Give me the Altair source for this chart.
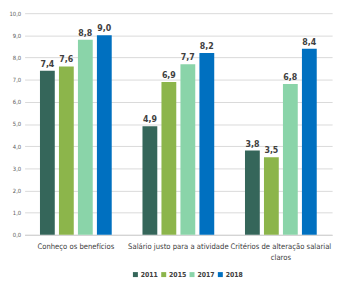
import altair as alt
import pandas as pd

categories = ["Conheço os benefícios", "Salário justo para a atividade", "Critérios de alteração salarial claros"]
years = ["2011", "2015", "2017", "2018"]
v2011 = [7.4, 4.9, 3.8]
v2015 = [7.6, 6.9, 3.5]
v2017 = [8.8, 7.7, 6.8]
v2018 = [9.0, 8.2, 8.4]
colors = ["#35665A", "#8CB54B", "#8AD4A9", "#0070C0"]
ticks = [0, 1, 2, 3, 4, 5, 6, 7, 8, 9, 10]

rows = []
for i, c in enumerate(categories):
    for y, vals in zip(years, [v2011, v2015, v2017, v2018]):
        rows.append({"cat": c, "year": y, "value": vals[i]})
df = pd.DataFrame(rows)

FONT = "DejaVu Sans Condensed, Liberation Sans Narrow, Noto Sans"

x = alt.X("cat:N", sort=categories, title=None,
          scale=alt.Scale(paddingInner=0.3, paddingOuter=0.15),
          axis=alt.Axis(labelAngle=0, labelFontSize=7.8, labelColor="#404040", labelFont=FONT,
                        domainColor="#d0d0d0", ticks=False, labelPadding=8, labelLimit=200,
                        labelLineHeight=11,
                        labelExpr="datum.label == 'Critérios de alteração salarial claros' ? ['Critérios de alteração salarial', 'claros'] : datum.label"))
xo = alt.XOffset("year:N", sort=years, scale=alt.Scale(paddingInner=0.22))
y = alt.Y("value:Q", title=None, scale=alt.Scale(domain=[0, 10]),
          axis=alt.Axis(values=ticks, format=".1f", labelOverlap=False,
                        labelExpr="replace(datum.label, '.', ',')",
                        labelFontSize=6, labelColor="#606060", labelFont=FONT,
                        domain=False, ticks=False, gridColor="#d9d9d9", labelPadding=4))

bars = alt.Chart(df).mark_bar().encode(
    x=x, xOffset=xo, y=y,
    color=alt.Color("year:N", sort=years, scale=alt.Scale(domain=years, range=colors),
                    legend=alt.Legend(title=None, orient="none", direction="horizontal",
                                      legendX=110, legendY=264, symbolType="square",
                                      symbolSize=26, symbolStrokeWidth=0, labelFontSize=7,
                                      labelFont=FONT, labelColor="#404040", labelFontWeight="bold",
                                      columnPadding=2, labelOffset=2))
)

labels = alt.Chart(df).mark_text(dy=-7, fontSize=9, fontWeight="bold", color="#404040", font=FONT).encode(
    x=x, xOffset=xo, y=y,
    text=alt.Text("lbl:N"),
).transform_calculate(lbl="replace(format(datum.value, '.1f'), '.', ',')")

chart = alt.layer(bars, labels).properties(
    width=315, height=227,
    padding={"left": 17, "top": 2, "right": 5, "bottom": 44},
    autosize="none",
).configure_view(stroke=None)

chart.save("out.html", embed_options={"renderer": "svg", "actions": False})
